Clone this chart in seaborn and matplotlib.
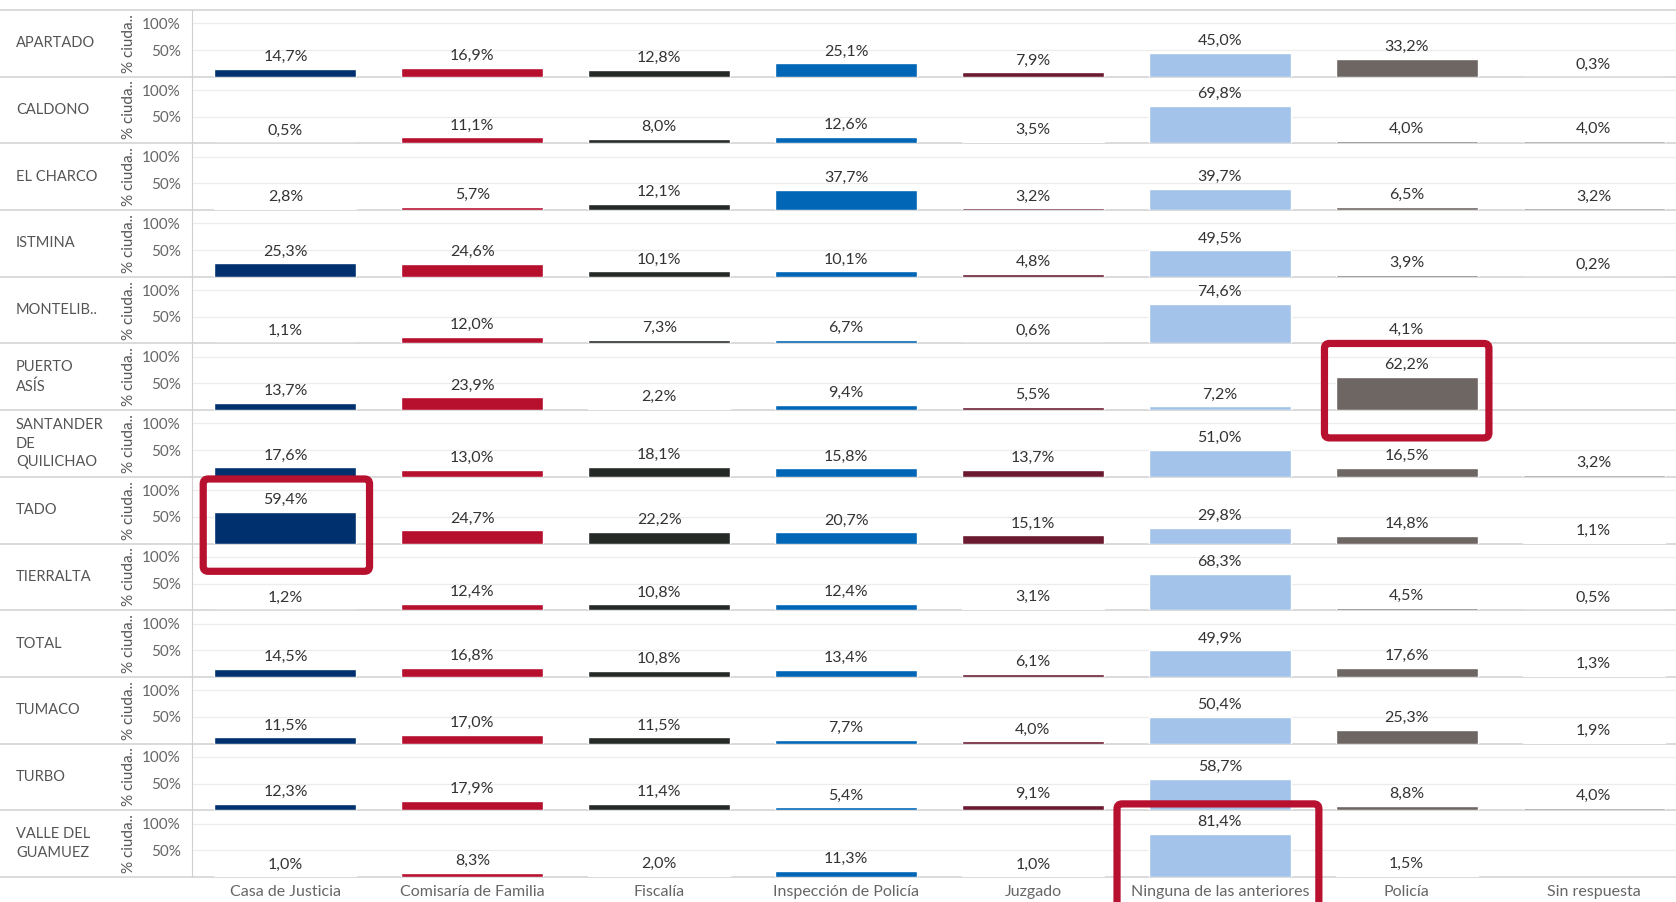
import numpy as np
import pandas as pd
import matplotlib.pyplot as plt
import seaborn as sns
from matplotlib.patches import FancyBboxPatch
from matplotlib.lines import Line2D
from matplotlib.transforms import IdentityTransform

municipios = ["APARTADO", "CALDONO", "EL CHARCO", "ISTMINA", "MONTELIB..",
              "PUERTO\nASÍS", "SANTANDER\nDE\nQUILICHAO", "TADO", "TIERRALTA",
              "TOTAL", "TUMACO", "TURBO", "VALLE DEL\nGUAMUEZ"]
categorias = ["Casa de Justicia", "Comisaría de Familia", "Fiscalía",
              "Inspección de Policía", "Juzgado", "Ninguna de las anteriores",
              "Policía", "Sin respuesta"]

# one list per category, in the order of municipios (nan = no bar)
casa_justicia = [14.7, 0.5, 2.8, 25.3, 1.1, 13.7, 17.6, 59.4, 1.2, 14.5, 11.5, 12.3, 1.0]
comisaria = [16.9, 11.1, 5.7, 24.6, 12.0, 23.9, 13.0, 24.7, 12.4, 16.8, 17.0, 17.9, 8.3]
fiscalia = [12.8, 8.0, 12.1, 10.1, 7.3, 2.2, 18.1, 22.2, 10.8, 10.8, 11.5, 11.4, 2.0]
inspeccion = [25.1, 12.6, 37.7, 10.1, 6.7, 9.4, 15.8, 20.7, 12.4, 13.4, 7.7, 5.4, 11.3]
juzgado = [7.9, 3.5, 3.2, 4.8, 0.6, 5.5, 13.7, 15.1, 3.1, 6.1, 4.0, 9.1, 1.0]
ninguna = [45.0, 69.8, 39.7, 49.5, 74.6, 7.2, 51.0, 29.8, 68.3, 49.9, 50.4, 58.7, 81.4]
policia = [33.2, 4.0, 6.5, 3.9, 4.1, 62.2, 16.5, 14.8, 4.5, 17.6, 25.3, 8.8, 1.5]
sin_respuesta = [0.3, 4.0, 3.2, 0.2, np.nan, np.nan, 3.2, 1.1, 0.5, 1.3, 1.9, 4.0, np.nan]

colores = ["#00306e", "#b7102f", "#252a26", "#0066b5", "#6b1a30", "#a3c3ea", "#6e6663", "#8c8c8c"]

# highlighted cells: (municipio, categoria)
destacados = [("TADO", "Casa de Justicia"), ("PUERTO\nASÍS", "Policía"),
              ("VALLE DEL\nGUAMUEZ", "Ninguna de las anteriores")]

series = [casa_justicia, comisaria, fiscalia, inspeccion, juzgado, ninguna, policia, sin_respuesta]
rows = []
for cat, vals in zip(categorias, series):
    for mun, v in zip(municipios, vals):
        rows.append({"municipio": mun, "categoria": cat, "pct": v / 100})
df = pd.DataFrame(rows).dropna()
paleta = dict(zip(categorias, colores))

sns.set_style("white")
plt.rcParams["font.family"] = ["Lato", "DejaVu Sans"]

W, H = 1676, 902
fig, axes = plt.subplots(len(municipios), 1, figsize=(W / 100, H / 100), dpi=100, sharex=True)
fig.subplots_adjust(left=192 / W, right=1687 / W, top=1 - 10 / H, bottom=1 - 877 / H, hspace=0)

for ax, mun in zip(axes, municipios):
    sub = df[df["municipio"] == mun]
    ax.set_facecolor("none")
    sns.barplot(data=sub, x="categoria", y="pct", hue="categoria", order=categorias,
                hue_order=categorias, palette=paleta, legend=False, errorbar=None,
                width=0.76, saturation=1, ax=ax)
    for i, cat in enumerate(categorias):
        s = sub[sub["categoria"] == cat]
        if len(s):
            v = s["pct"].iloc[0]
            ax.annotate(f"{v * 100:.1f}%".replace(".", ","), (i, v), xytext=(0, 3.5),
                        textcoords="offset points", ha="center", va="bottom",
                        fontsize=11.5, color="#333333")
    ax.set_ylim(0, 1.25)
    ax.set_xlim(-0.5, len(categorias) - 0.5)
    ax.set_yticks([0.5, 1.0])
    ax.set_yticklabels(["50%", "100%"])
    ax.yaxis.grid(True, color="#ececec", lw=0.9)
    ax.set_axisbelow(True)
    ax.tick_params(axis="y", length=0, labelsize=11, labelcolor="#666666", pad=8)
    ax.tick_params(axis="x", length=0, labelsize=11.5, labelcolor="#666666", pad=6)
    for side in ["top", "right", "bottom"]:
        ax.spines[side].set_visible(False)
    ax.spines["left"].set_color("#d0d0d0")
    ax.set_xlabel("")
    ax.set_ylabel("% ciuda..", fontsize=11, color="#555555")
    ax.yaxis.set_label_coords(-56 / 1495, 0.5)
    pos = ax.get_position()
    fig.text(16 / W, (pos.y0 + pos.y1) / 2, mun, ha="left", va="center",
             fontsize=10.5, color="#555555", linespacing=1.45)
    fig.add_artist(Line2D([0, 1], [pos.y0, pos.y0], color="#d4d4d4", lw=1.2,
                          transform=fig.transFigure, zorder=-1))

top = axes[0].get_position().y1
fig.add_artist(Line2D([0, 1], [top, top], color="#d4d4d4", lw=1.2,
                      transform=fig.transFigure, zorder=-1))

# red highlight boxes
box_extents = {"Casa de Justicia": (-0.44, 0.45, -0.52, 1.21),
               "Policía": (-0.44, 0.44, -0.52, 1.25),
               "Ninguna de las anteriores": (-0.55, 0.53, -0.9, 1.37)}
for mun, cat in destacados:
    ax = axes[municipios.index(mun)]
    i = categorias.index(cat)
    x0, x1, y0, y1 = box_extents[cat]
    p0 = ax.transData.transform((i + x0, y0))
    p1 = ax.transData.transform((i + x1, y1))
    box = FancyBboxPatch((p0[0], p0[1]), p1[0] - p0[0], p1[1] - p0[1],
                         boxstyle="round,pad=0,rounding_size=5", fill=False,
                         edgecolor="#b8102f", lw=5.2, transform=IdentityTransform(),
                         zorder=10)
    fig.add_artist(box)

fig.savefig("out.png", dpi=100)
